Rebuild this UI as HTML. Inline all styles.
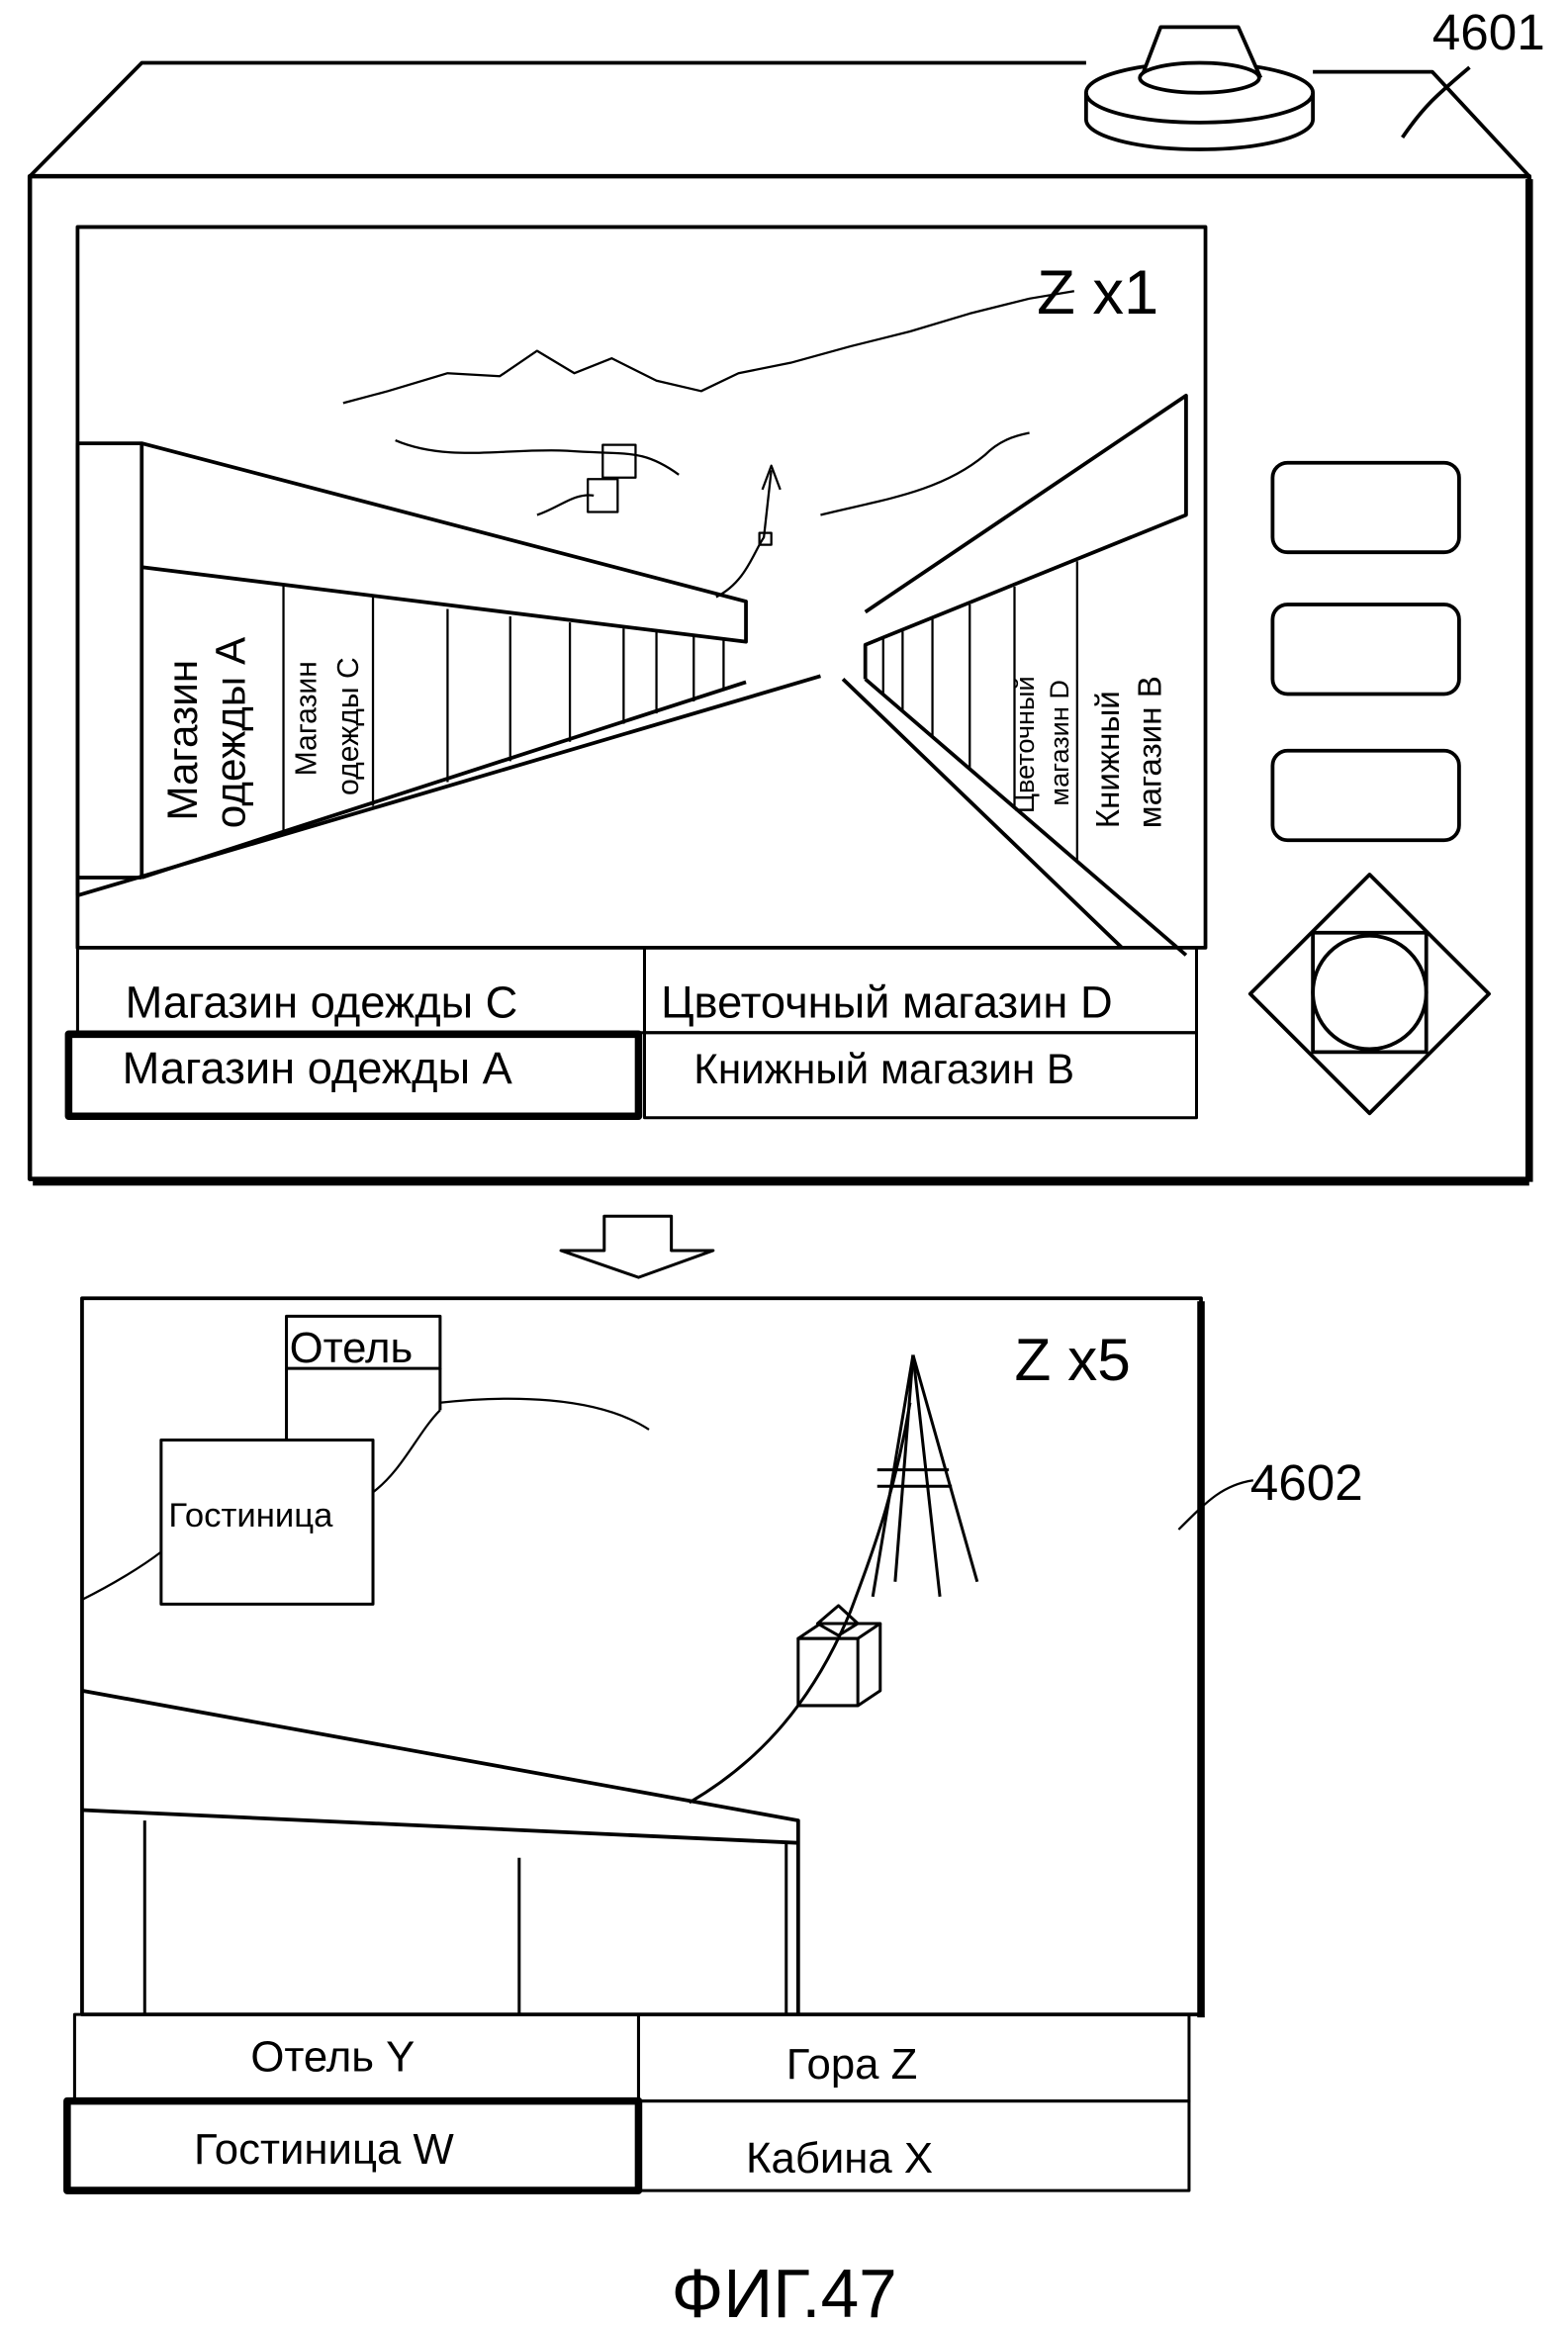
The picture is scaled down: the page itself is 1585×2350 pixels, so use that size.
<!DOCTYPE html>
<html><head><meta charset="utf-8">
<style>
html,body{margin:0;padding:0;background:#fff;}
svg{display:block;}
text{font-family:"Liberation Sans",sans-serif;fill:#000;}
</style></head>
<body>
<svg width="1585" height="2350" viewBox="0 0 1051 1558" xmlns="http://www.w3.org/2000/svg">
<g fill="none" stroke="#000" stroke-width="2.5" stroke-linejoin="round">
<polyline points="20,118 95,42 728,42"/>
<polyline points="880,48 960,48 1025,118"/>
<rect x="20" y="118" width="1005" height="672" stroke-width="3"/>
<line x1="1025" y1="120" x2="1025" y2="792" stroke-width="5"/>
<line x1="22" y1="792" x2="1025" y2="792" stroke-width="5"/>
<path d="M728,62 L728,80 A76,20 0 0 0 880,80 L880,62" fill="#fff"/>
<ellipse cx="804" cy="62" rx="76" ry="20" fill="#fff"/>
<path d="M765,52 L778,18 L830,18 L845,52" fill="#fff"/>
<ellipse cx="804" cy="52" rx="40" ry="10" fill="#fff"/>
<path d="M940,92 C955,70 965,62 985,45"/>
<rect x="52" y="152" width="756" height="483"/>
<polyline points="52,297 95,297 500,403 500,430 95,380"/>
<line x1="52" y1="297" x2="52" y2="600"/>
<line x1="95" y1="297" x2="95" y2="588"/>
<line x1="52" y1="588" x2="95" y2="588"/>
<line x1="52" y1="600" x2="550" y2="453"/>
<line x1="95" y1="588" x2="500" y2="457"/>
<g stroke-width="1.5">
<line x1="190" y1="392" x2="190" y2="558"/>
<line x1="250" y1="400" x2="250" y2="540"/>
<line x1="300" y1="408" x2="300" y2="524"/>
<line x1="342" y1="413" x2="342" y2="510"/>
<line x1="382" y1="417" x2="382" y2="497"/>
<line x1="418" y1="421" x2="418" y2="485"/>
<line x1="440" y1="423" x2="440" y2="478"/>
<line x1="465" y1="426" x2="465" y2="470"/>
<line x1="485" y1="428" x2="485" y2="463"/>
</g>
<polyline points="580,410 795,265 795,345 580,432 580,455"/>
<line x1="565" y1="455" x2="752" y2="635"/>
<line x1="580" y1="455" x2="795" y2="640"/>
<g stroke-width="1.5">
<line x1="592" y1="428" x2="592" y2="465"/>
<line x1="605" y1="423" x2="605" y2="476"/>
<line x1="625" y1="415" x2="625" y2="494"/>
<line x1="650" y1="405" x2="650" y2="515"/>
<line x1="680" y1="393" x2="680" y2="540"/>
<line x1="722" y1="376" x2="722" y2="577"/>
</g>
<path d="M230,270 L260,262 L300,250 L335,252 L360,235 L385,250 L410,240 L440,255 L470,262 L495,250 L530,243 L570,232 L610,222 L650,210 L690,200 L720,195" stroke-width="1.5"/>
<path d="M265,295 C300,310 340,300 380,302 C420,305 430,300 455,318" stroke-width="1.5"/>
<path d="M360,345 C375,340 385,330 398,332" stroke-width="1.5"/>
<path d="M550,345 C590,335 630,330 660,305 C670,295 680,292 690,290" stroke-width="1.5"/>
<rect x="404" y="298" width="22" height="22" stroke-width="1.5"/>
<rect x="394" y="321" width="20" height="22" stroke-width="1.5"/>
<path d="M480,400 C500,390 505,370 512,360 L517,315" stroke-width="1.5"/>
<polyline points="511,328 517,312 523,328" stroke-width="1.5"/>
<rect x="509" y="357" width="8" height="8" stroke-width="1.5"/>
<rect x="52" y="635" width="380" height="57" stroke-width="2"/>
<rect x="432" y="635" width="370" height="57" stroke-width="2"/>
<rect x="432" y="692" width="370" height="57" stroke-width="2"/>
<rect x="46" y="693" width="382" height="55" stroke-width="5"/>
<rect x="853" y="310" width="125" height="60" rx="10"/>
<rect x="853" y="405" width="125" height="60" rx="10"/>
<rect x="853" y="503" width="125" height="60" rx="10"/>
<polygon points="918,586 998,666 918,746 838,666"/>
<rect x="880" y="625" width="76" height="80"/>
<circle cx="918" cy="665" r="38"/>
<polygon points="405,815 450,815 450,838 478,838 428,856 376,838 405,838" stroke-width="2"/>
<rect x="55" y="870" width="750" height="480"/>
<line x1="805" y1="872" x2="805" y2="1352" stroke-width="5"/>
<rect x="192" y="882" width="103" height="35" stroke-width="2"/>
<line x1="192" y1="917" x2="192" y2="965" stroke-width="2"/>
<line x1="295" y1="917" x2="295" y2="945" stroke-width="2"/>
<rect x="108" y="965" width="142" height="110" fill="#fff" stroke-width="2"/>
<path d="M295,940 C340,935 400,935 435,958" stroke-width="1.5"/>
<path d="M55,1072 C75,1062 95,1050 108,1040" stroke-width="1.5"/>
<path d="M250,1000 C270,985 280,960 295,945" stroke-width="1.5"/>
<polyline points="55,1133 535,1220 535,1350"/>
<line x1="55" y1="1213" x2="535" y2="1235" />
<line x1="97" y1="1220" x2="97" y2="1350" stroke-width="2"/>
<line x1="348" y1="1245" x2="348" y2="1350" stroke-width="2"/>
<line x1="527" y1="1235" x2="527" y2="1350" stroke-width="2"/>
<g stroke-width="2">
<line x1="612" y1="908" x2="585" y2="1070"/>
<line x1="612" y1="908" x2="630" y2="1070"/>
<line x1="612" y1="908" x2="655" y2="1060"/>
<line x1="612" y1="908" x2="600" y2="1060"/>
<line x1="588" y1="985" x2="636" y2="985"/>
<line x1="588" y1="996" x2="638" y2="996"/>
<path d="M610,940 C600,1000 585,1040 570,1080 C545,1140 510,1180 462,1208"/>
<rect x="535" y="1098" width="40" height="45"/>
<polygon points="535,1098 550,1088 590,1088 575,1098"/>
<polyline points="575,1143 590,1133 590,1088"/>
<polygon points="548,1088 562,1076 575,1088 562,1096"/>
</g>
<path d="M790,1025 C810,1005 820,995 840,992" stroke-width="1.5"/>
<rect x="50" y="1350" width="378" height="58" stroke-width="2"/>
<rect x="428" y="1350" width="369" height="58" stroke-width="2"/>
<rect x="428" y="1408" width="369" height="60" stroke-width="2"/>
<rect x="45" y="1408" width="383" height="60" stroke-width="5"/>
</g>
<text x="960" y="33" font-size="34">4601</text>
<text x="695" y="210" font-size="42">Z x1</text>
<text transform="translate(132,550) rotate(-90)" font-size="28">Магазин</text>
<text transform="translate(164,555) rotate(-90)" font-size="28">одежды A</text>
<text transform="translate(212,520) rotate(-90)" font-size="20">Магазин</text>
<text transform="translate(240,533) rotate(-90)" font-size="20">одежды C</text>
<text transform="translate(693,545) rotate(-90)" font-size="18">Цветочный</text>
<text transform="translate(716,540) rotate(-90)" font-size="18">магазин D</text>
<text transform="translate(750,555) rotate(-90)" font-size="22">Книжный</text>
<text transform="translate(778,555) rotate(-90)" font-size="22">магазин B</text>
<text x="84" y="682" font-size="30">Магазин одежды C</text>
<text x="443" y="682" font-size="30">Цветочный магазин D</text>
<text x="82" y="726" font-size="30">Магазин одежды A</text>
<text x="465" y="726" font-size="28">Книжный магазин B</text>
<text x="194" y="913" font-size="29">Отель</text>
<text x="113" y="1023" font-size="23">Гостиница</text>
<text x="680" y="925" font-size="40">Z x5</text>
<text x="838" y="1005" font-size="34">4602</text>
<text x="168" y="1388" font-size="29">Отель Y</text>
<text x="527" y="1393" font-size="29">Гора Z</text>
<text x="130" y="1450" font-size="29">Гостиница W</text>
<text x="500" y="1456" font-size="29">Кабина X</text>
<text x="450" y="1553" font-size="46">ФИГ.47</text>
</svg>
</body></html>
